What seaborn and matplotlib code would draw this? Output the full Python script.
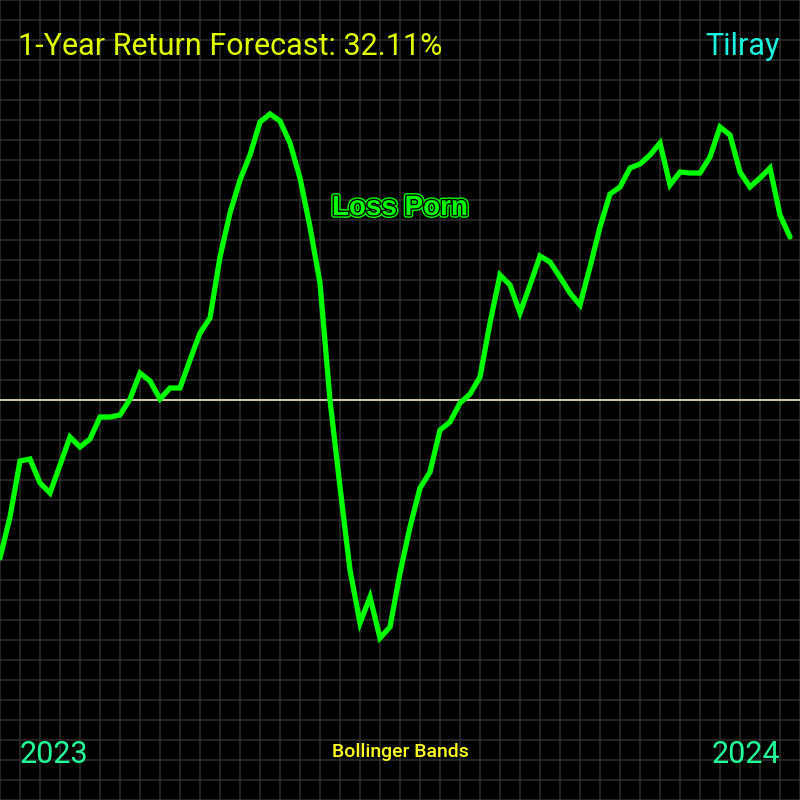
import matplotlib
matplotlib.use("Agg")
import matplotlib.pyplot as plt
import matplotlib.patheffects as pe
import seaborn as sns
import pandas as pd
import numpy as np

# ---- data ----
values = [-39.5, -29.25, -15.25, -14.75, -20.75, -23.25, -16.25, -9.25, -11.75, -9.75,
          -4.25, -4.25, -3.75, 0.25, 6.75, 4.75, 0.25, 3.0, 3.0, 10.0,
          16.75, 20.5, 35.75, 46.75, 55.0, 61.25, 69.5, 71.5, 69.75, 64.25,
          55.5, 43.25, 29.25, 0.0, -21.75, -42.5, -55.75, -49.25, -59.5, -56.75,
          -43.25, -31.75, -22.0, -18.0, -7.5, -5.5, -0.75, 1.5, 5.75, 19.25,
          31.25, 28.75, 21.75, 28.75, 36.0, 34.5, 30.75, 26.75, 23.75, 33.25,
          43.25, 51.5, 53.25, 58.0, 59.0, 61.25, 64.25, 53.75, 57.0, 56.75,
          56.75, 60.75, 68.25, 66.25, 57.0, 53.25, 55.5, 58.0, 46.25, 40.75]
steps = list(range(len(values)))
title_text = "1-Year Return Forecast: 32.11%"
ticker = "Tilray"
start_label = "2023"
end_label = "2024"
indicator = "Bollinger Bands"
tag = "Loss Porn"

df = pd.DataFrame({"step": steps, "value": values})

sns.set_theme(style="dark")
plt.rcParams['font.family'] = ['Roboto', 'DejaVu Sans']

fig = plt.figure(figsize=(8, 8), dpi=100, facecolor="black")
ax = fig.add_axes([0, 0, 1, 1])
ax.set_facecolor("black")

sns.lineplot(data=df, x="step", y="value", ax=ax, color="#00ff00", linewidth=3.8,
             solid_joinstyle="miter", zorder=3)

ax.axhline(0, color="#c8c4a4", linewidth=1.5, zorder=2)

ax.set_xlim(0, 80)
ax.set_ylim(-100, 100)
ax.set_xticks(np.arange(0, 81, 2))
ax.set_yticks(np.arange(-100, 101, 5))
ax.grid(True, color="#303030", linewidth=1.1, zorder=1)
ax.set_axisbelow(True)
ax.tick_params(length=0, labelbottom=False, labelleft=False)
ax.set_xlabel("")
ax.set_ylabel("")
for s in ax.spines.values():
    s.set_visible(False)

fig.text(18 / 800, 1 - 55 / 800, title_text, color="#dfff00", fontsize=22,
         ha="left", va="baseline")
fig.text(780 / 800, 1 - 55 / 800, ticker, color="#19f5e0", fontsize=22,
         ha="right", va="baseline")
fig.text(20 / 800, 1 - 763 / 800, start_label, color="#22ff99", fontsize=22,
         ha="left", va="baseline")
fig.text(780 / 800, 1 - 763 / 800, end_label, color="#22ff99", fontsize=22,
         ha="right", va="baseline")
fig.text(400 / 800, 1 - 757 / 800, indicator, color="#ffff22", fontsize=14,
         fontweight="medium", ha="center", va="baseline")
t = fig.text(400 / 800, 1 - 215 / 800, tag, color="#00ff00", fontsize=20,
             fontweight="bold", family=["Liberation Sans", "DejaVu Sans"],
             ha="center", va="baseline")
t.set_path_effects([pe.Stroke(linewidth=4, foreground="#00ff00"),
                    pe.Stroke(linewidth=2, foreground="black"),
                    pe.Normal()])

fig.savefig("out.png", dpi=100, facecolor="black")
